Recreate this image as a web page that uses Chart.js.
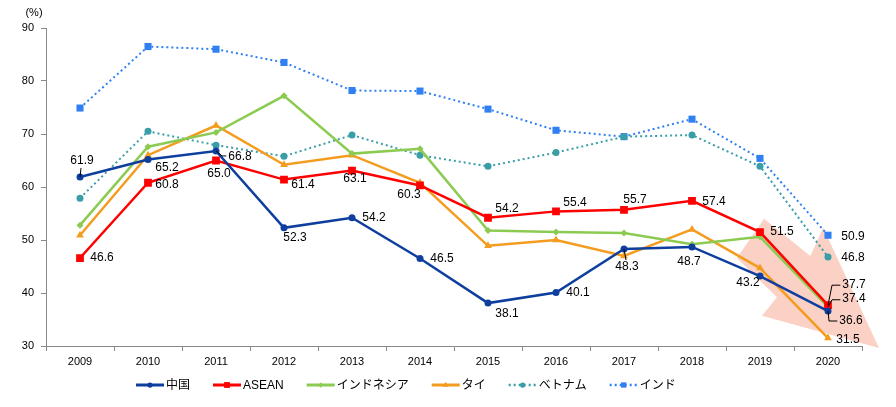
<!DOCTYPE html>
<html>
<head>
<meta charset="utf-8">
<script src="https://cdn.jsdelivr.net/npm/chart.js@4"></script>
<style>
  html, body { margin: 0; padding: 0; background: #ffffff; }
  #wrap { width: 896px; height: 407px; }
</style>
</head>
<body>
<div id="wrap"><canvas id="chart" width="896" height="407"></canvas></div>
<script>
// --- data ---
const years = ['2009', '2010', '2011', '2012', '2013', '2014', '2015', '2016', '2017', '2018', '2019', '2020'];
const seriesNames = ['中国', 'ASEAN', 'インドネシア', 'タイ', 'ベトナム', 'インド'];
const china     = [61.9, 65.2, 66.8, 52.3, 54.2, 46.5, 38.1, 40.1, 48.3, 48.7, 43.2, 36.6];
const asean     = [46.6, 60.8, 65.0, 61.4, 63.1, 60.3, 54.2, 55.4, 55.7, 57.4, 51.5, 37.7];
const indonesia = [52.8, 67.6, 70.3, 77.2, 66.3, 67.2, 51.8, 51.5, 51.3, 49.2, 50.6, 37.4];
const thailand  = [50.9, 66.0, 71.6, 64.2, 66.0, 60.8, 48.9, 50.0, 47.0, 52.0, 44.7, 31.5];
const vietnam   = [57.9, 70.5, 67.9, 65.8, 69.8, 66.0, 63.9, 66.5, 69.5, 69.8, 63.9, 46.8];
const india     = [74.9, 86.5, 86.0, 83.5, 78.2, 78.1, 74.7, 70.7, 69.5, 72.8, 65.4, 50.9];
const yTicks = [30, 40, 50, 60, 70, 80, 90];

const FONT = "'Liberation Sans', Arial, 'Noto Sans CJK JP', sans-serif";

// --- where each value label sits relative to its point (dx, dy, leader) ---
const labelPlaces = [
  [[2, -16, 'up'], [19, 8], [24, 6, 'side'], [11, 10], [22, 0], [22, 0], [19, 11], [22, 0], [3, 18, 'down'], [-3, 15], [-12, 7], [23, 10, 'elbowDown']],
  [[22, 0], [19, 2], [3, 13], [19, 5], [3, 8], [-11, 9], [19, -9], [19, -9], [11, -10], [22, 1], [22, 0], [26, -21, 'elbowUp']],
  [null, null, null, null, null, null, null, null, null, null, null, [26, -8, 'elbowUp']],
  [null, null, null, null, null, null, null, null, null, null, null, [20, 2]],
  [null, null, null, null, null, null, null, null, null, null, null, [25, 1]],
  [null, null, null, null, null, null, null, null, null, null, null, [25, 1]]
];

// pink arrow, given as (category index, value) pairs
const arrowShape = [[10.06, 54.0], [10.74, 47.0], [10.93, 52.3], [11.75, 29.6], [10.03, 35.7], [10.25, 39.2], [9.66, 46.6]];

const styles = [
  { color: '#0E3F9E', point: 'circle',   radius: 3.5, dash: [],     width: 2.5 },
  { color: '#FF0000', point: 'rect',     radius: 5.5, dash: [],     width: 2.5 },
  { color: '#8CCB52', point: 'rectRot',  radius: 3.5, dash: [],     width: 2.5 },
  { color: '#F39C1F', point: 'triangle', radius: 4.5, dash: [],     width: 2.5 },
  { color: '#3A9EA8', point: 'circle',   radius: 3.5, dash: [2, 3], width: 2 },
  { color: '#3080F4', point: 'rect',     radius: 5,   dash: [2, 3], width: 2 }
];
const allValues = [china, asean, indonesia, thailand, vietnam, india];

const datasets = allValues.map((vals, i) => ({
  label: seriesNames[i],
  data: vals,
  borderColor: styles[i].color,
  backgroundColor: styles[i].color,
  borderWidth: styles[i].width,
  borderDash: styles[i].dash,
  pointStyle: styles[i].point,
  pointRadius: styles[i].radius,
  pointBorderWidth: 0,
  pointHoverRadius: styles[i].radius,
  tension: 0
}));

// arrow behind the lines
const arrowPlugin = {
  id: 'arrow',
  beforeDatasetsDraw(chart) {
    const { ctx, scales: { x, y } } = chart;
    ctx.save();
    ctx.fillStyle = 'rgba(248, 170, 150, 0.55)';
    ctx.beginPath();
    arrowShape.forEach(([i, v], k) => {
      const px = x.getPixelForValue(i), py = y.getPixelForValue(v);
      if (k === 0) ctx.moveTo(px, py); else ctx.lineTo(px, py);
    });
    ctx.closePath();
    ctx.fill();
    ctx.restore();
  }
};

// value labels, "(%)" and the legend
const textPlugin = {
  id: 'texts',
  afterDatasetsDraw(chart) {
    const { ctx } = chart;
    ctx.save();
    ctx.font = '12px ' + FONT;
    ctx.fillStyle = '#000';
    ctx.strokeStyle = '#000';
    ctx.lineWidth = 1;
    ctx.textAlign = 'center';
    ctx.textBaseline = 'middle';
    labelPlaces.forEach((places, si) => {
      const meta = chart.getDatasetMeta(si);
      places.forEach((p, idx) => {
        if (!p) return;
        const pt = meta.data[idx];
        const lx = pt.x + p[0], ly = pt.y + p[1];
        const txt = allValues[si][idx].toFixed(1);
        const w = ctx.measureText(txt).width;
        ctx.beginPath();
        if (p[2] === 'up') { ctx.moveTo(pt.x, pt.y); ctx.lineTo(pt.x + 1, ly + 7); }
        else if (p[2] === 'down') { ctx.moveTo(pt.x, pt.y); ctx.lineTo(pt.x + 2, ly - 7); }
        else if (p[2] === 'side') { ctx.moveTo(pt.x, pt.y); ctx.lineTo(pt.x + 6, ly - 1); ctx.lineTo(lx - w / 2 - 2, ly - 1); }
        else if (p[2] === 'elbowUp') { ctx.moveTo(pt.x, pt.y); ctx.lineTo(pt.x + 4, ly + 1); ctx.lineTo(lx - w / 2 - 2, ly + 1); }
        else if (p[2] === 'elbowDown') { ctx.moveTo(pt.x, pt.y); ctx.lineTo(pt.x + 1, ly); ctx.lineTo(lx - w / 2 - 2, ly); }
        ctx.stroke();
        ctx.fillText(txt, lx, ly);
      });
    });

    ctx.font = '11px ' + FONT;
    ctx.fillText('(%)', 34, 13);

    // legend
    ctx.font = '12px ' + FONT;
    ctx.textAlign = 'left';
    let lx = 136;
    const ly = 385;
    seriesNames.forEach((name, i) => {
      const s = styles[i];
      ctx.strokeStyle = s.color;
      ctx.fillStyle = s.color;
      ctx.lineWidth = s.width + 0.5;
      ctx.setLineDash(s.dash);
      ctx.beginPath();
      ctx.moveTo(lx, ly);
      ctx.lineTo(lx + 28, ly);
      ctx.stroke();
      ctx.setLineDash([]);
      Chart.helpers.drawPoint(ctx, { pointStyle: s.point, radius: s.radius * 0.75, borderWidth: 0, rotation: 0 }, lx + 14, ly);
      ctx.fillStyle = '#000';
      ctx.fillText(name, lx + 30, ly + 1);
      lx += 30 + ctx.measureText(name).width + 23;
    });
    ctx.restore();
  }
};

new Chart(document.getElementById('chart'), {
  type: 'line',
  data: { labels: years, datasets: datasets },
  options: {
    responsive: false,
    animation: false,
    layout: { padding: { top: 28, right: 34, left: 0, bottom: 0 } },
    plugins: { legend: { display: false }, tooltip: { enabled: false } },
    scales: {
      x: {
        offset: true,
        afterFit(scale) { scale.height = 61; },
        grid: { display: true, offset: true, drawOnChartArea: false, drawTicks: true, tickLength: 5, color: '#888' },
        border: { color: '#888', width: 1 },
        ticks: { color: '#000', font: { family: FONT, size: 11 }, padding: 4, maxRotation: 0 }
      },
      y: {
        min: yTicks[0],
        max: yTicks[yTicks.length - 1],
        afterFit(scale) { scale.width = 46; },
        afterBuildTicks(scale) { scale.ticks = yTicks.map(v => ({ value: v })); },
        grid: { display: true, drawOnChartArea: false, drawTicks: true, tickLength: 5, color: '#888' },
        border: { color: '#888', width: 1 },
        ticks: { color: '#000', font: { family: FONT, size: 11 }, padding: 7 }
      }
    }
  },
  plugins: [arrowPlugin, textPlugin]
});
</script>
</body>
</html>
